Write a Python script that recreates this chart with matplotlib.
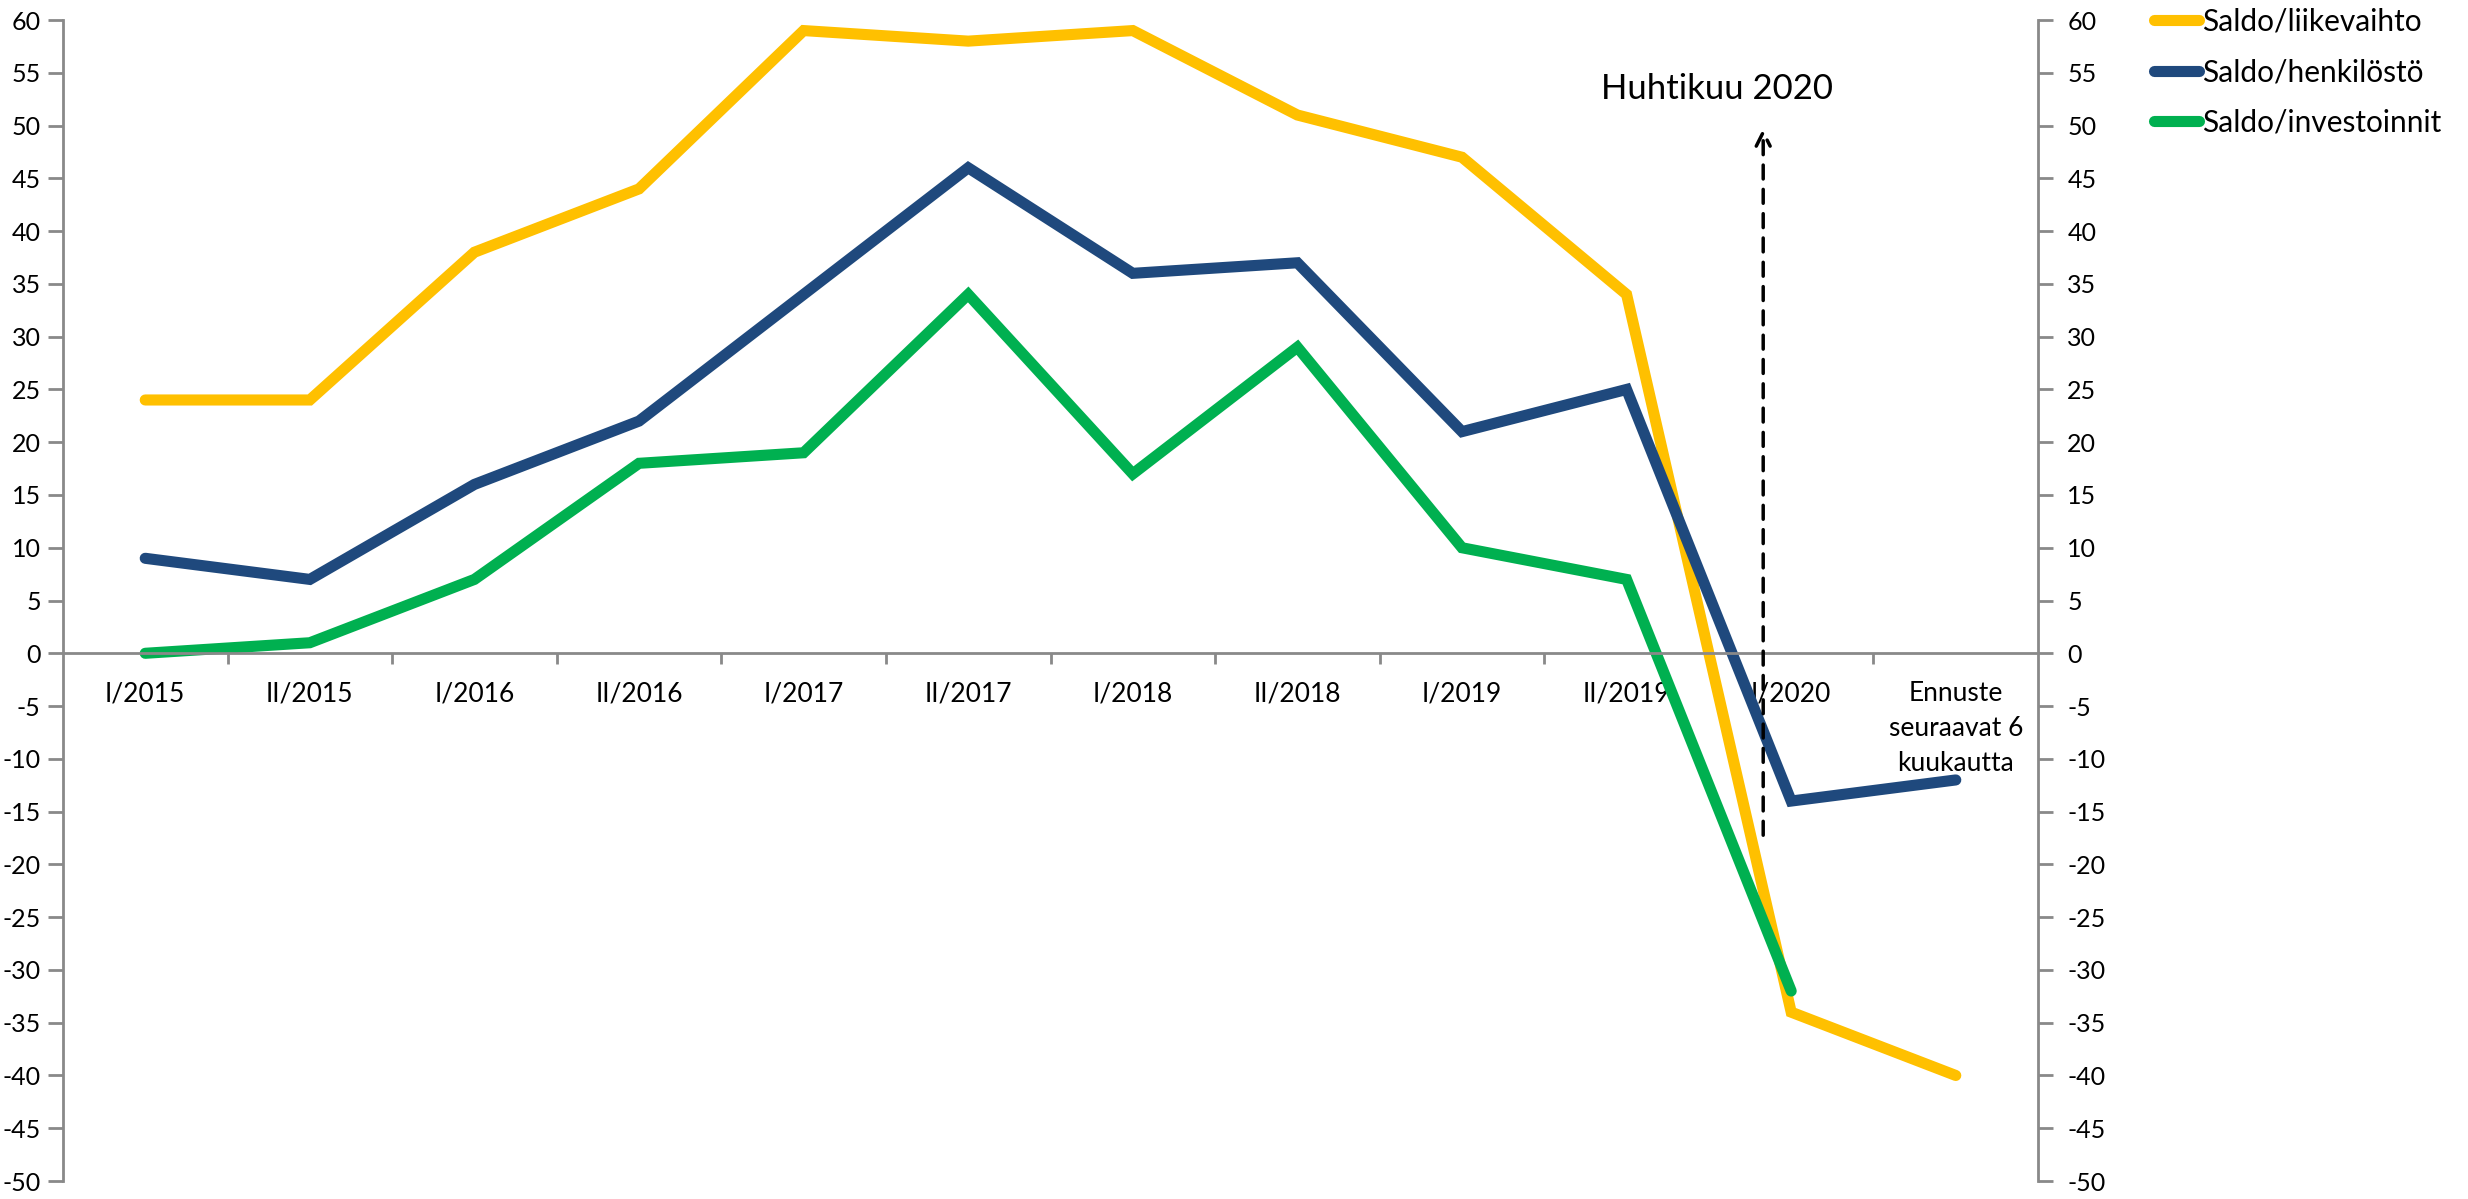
import matplotlib.pyplot as plt
import numpy as np

plt.rcParams['font.family'] = ['Lato', 'DejaVu Sans']
plt.rcParams['axes.unicode_minus'] = False

# Kvartaalit / puolivuodet
categories = ['I/2015', 'II/2015', 'I/2016', 'II/2016', 'I/2017', 'II/2017',
              'I/2018', 'II/2018', 'I/2019', 'II/2019', 'I/2020',
              'Ennuste\nseuraavat 6\nkuukautta']
liikevaihto = [24, 24, 38, 44, 59, 58, 59, 51, 47, 34, -34, -40]
henkilosto = [9, 7, 16, 22, 34, 46, 36, 37, 21, 25, -14, -12]
investoinnit = [0, 1, 7, 18, 19, 34, 17, 29, 10, 7, -32, np.nan]
series_names = ['Saldo/liikevaihto', 'Saldo/henkilöstö', 'Saldo/investoinnit']
colors = ['#FFC000', '#1F497D', '#00B050']

axis_grey = '#898989'

fig = plt.figure(figsize=(24.68, 11.99), dpi=100)
ax = fig.add_axes([0.0255, 0.015, 0.8003, 0.9683])

x = np.arange(len(categories))
handles = []
for vals, name, col in zip([liikevaihto, henkilosto, investoinnit], series_names, colors):
    h, = ax.plot(x, vals, color=col, lw=8, solid_capstyle='round',
                 solid_joinstyle='miter', label=name)
    handles.append(h)

ax.set_xlim(-0.5, len(categories) - 0.5)
ax.set_ylim(-50, 60)
ax.set_yticks(np.arange(-50, 61, 5))

# x-akseli nollatasolla
for s in ['top', 'right']:
    ax.spines[s].set_visible(False)
ax.spines['bottom'].set_position(('data', 0))
ax.spines['bottom'].set_color(axis_grey)
ax.spines['bottom'].set_linewidth(2)
ax.spines['left'].set_color(axis_grey)
ax.spines['left'].set_linewidth(2)
ax.set_xticks(x)
ax.set_xticklabels(categories, fontsize=19, va='top', linespacing=1.5)
ax.set_xticks(np.arange(0.5, len(categories) - 0.5, 1), minor=True)
ax.tick_params(axis='x', which='major', length=0, pad=20)
ax.tick_params(axis='x', which='minor', length=8, width=2, color=axis_grey, direction='out')
ax.tick_params(axis='y', length=11, width=2, color=axis_grey, labelsize=18, pad=5)

# oikea akseli
ax2 = ax.twinx()
ax2.set_ylim(-50, 60)
ax2.set_yticks(np.arange(-50, 61, 5))
for s in ['top', 'left', 'bottom']:
    ax2.spines[s].set_visible(False)
ax2.spines['right'].set_color(axis_grey)
ax2.spines['right'].set_linewidth(2)
ax2.tick_params(axis='y', length=11, width=2, color=axis_grey, labelsize=18, pad=10)

# Huhtikuu 2020 -nuoli
ax.annotate('', xy=(9.83, 50), xytext=(9.83, -17.5),
            arrowprops=dict(arrowstyle='->', color='black', lw=2.5,
                            linestyle=(0, (4, 3)), mutation_scale=25))
ax.text(9.55, 53.5, 'Huhtikuu 2020', fontsize=25, ha='center', va='center')

fig.legend(handles=handles, loc='upper left', bbox_to_anchor=(0.862, 1.016),
           frameon=False, fontsize=21.5, handlelength=1.5, handletextpad=0.1,
           labelspacing=0.75)

fig.savefig('out.png', dpi=100)
